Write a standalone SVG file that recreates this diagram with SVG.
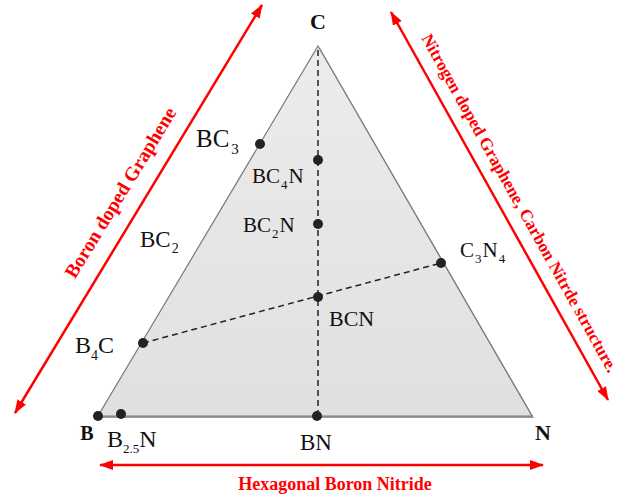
<svg xmlns="http://www.w3.org/2000/svg" width="622" height="497" viewBox="0 0 622 497">
<style>
.lbl{font-family:"Liberation Serif","Times New Roman",serif;fill:#111;}
.bold{font-family:"Liberation Serif","Times New Roman",serif;font-weight:bold;fill:#111;}
.red{font-family:"Liberation Serif","Times New Roman",serif;font-weight:bold;fill:#ff0000;}
.dash{stroke:#222;stroke-width:1.5;stroke-dasharray:6 4;fill:none;}
.arrow{stroke:#ff0000;stroke-width:2.5;fill:none;marker-start:url(#ah);marker-end:url(#ah);}
.dot{fill:#222;}
</style>
<defs>
<marker id="ah" markerUnits="userSpaceOnUse" markerWidth="14" markerHeight="12" refX="13" refY="5" orient="auto-start-reverse" viewBox="0 0 14 10">
<path d="M0,0 L14,5 L0,10 Z" fill="#ff0000"/>
</marker>
<linearGradient id="tg" x1="0" y1="0" x2="0" y2="1">
<stop offset="0" stop-color="#ececec"/>
<stop offset="1" stop-color="#e0e0e0"/>
</linearGradient>
</defs>
<rect width="622" height="497" fill="#ffffff"/>
<g id="triangle">
<polygon points="320,48 534,418 100,418" fill="#9a9a9a"/>
<polygon points="318,46 532,416 98,416" fill="url(#tg)" stroke="#7a7a7a" stroke-width="1.2"/>
</g>
<g id="connectors">
<line class="dash" x1="318" y1="50" x2="318" y2="416"/>
<line class="dash" x1="143" y1="343" x2="441" y2="263"/>
<line class="arrow" x1="15" y1="413" x2="262" y2="5"/>
<line class="arrow" x1="391" y1="12" x2="608" y2="400"/>
<line class="arrow" x1="100" y1="465" x2="543" y2="465"/>
</g>
<g id="vertex-C"><text class="bold" x="318" y="29" font-size="22" text-anchor="middle">C</text></g>
<g id="vertex-B"><circle class="dot" cx="98" cy="416" r="5"/><text class="bold" x="87" y="440" font-size="20" text-anchor="middle">B</text></g>
<g id="vertex-N"><text class="bold" x="543" y="440" font-size="22" text-anchor="middle">N</text></g>
<g id="BC3"><circle class="dot" cx="260" cy="144" r="5"/><text class="lbl" x="196" y="147" font-size="25">BC<tspan font-size="15" dx="2" dy="7">3</tspan></text></g>
<g id="BC4N"><circle class="dot" cx="318" cy="160" r="5"/><text class="lbl" x="252" y="183" font-size="21">BC<tspan font-size="13" dx="1" dy="6">4</tspan><tspan dx="1" dy="-6">N</tspan></text></g>
<g id="BC2N"><circle class="dot" cx="318" cy="224" r="5"/><text class="lbl" x="243" y="232" font-size="21">BC<tspan font-size="13" dx="1" dy="6">2</tspan><tspan dx="1" dy="-6">N</tspan></text></g>
<g id="BC2"><text class="lbl" x="140" y="247" font-size="23">BC<tspan font-size="14" dx="1" dy="6">2</tspan></text></g>
<g id="C3N4"><circle class="dot" cx="441" cy="263" r="5"/><text class="lbl" x="460" y="257" font-size="21">C<tspan font-size="13" dx="1" dy="6">3</tspan><tspan dx="1" dy="-6">N</tspan><tspan font-size="13" dx="1" dy="6">4</tspan></text></g>
<g id="BCN"><circle class="dot" cx="318" cy="297" r="5"/><text class="lbl" x="329" y="326" font-size="22">BCN</text></g>
<g id="B4C"><circle class="dot" cx="143" cy="343" r="5"/><text class="lbl" x="75" y="353" font-size="24">B<tspan font-size="14" dy="7">4</tspan><tspan dy="-7">C</tspan></text></g>
<g id="B2.5N"><circle class="dot" cx="121" cy="414" r="5"/><text class="lbl" x="107" y="447" font-size="24">B<tspan font-size="13" dy="6">2.5</tspan><tspan dy="-6">N</tspan></text></g>
<g id="BN"><circle class="dot" cx="317" cy="416" r="5"/><text class="lbl" x="316" y="450" font-size="23" text-anchor="middle">BN</text></g>
<g id="label-left"><text class="red" font-size="19.5" text-anchor="middle" transform="translate(126,196) rotate(-58.6)">Boron doped Graphene</text></g>
<g id="label-right"><text class="red" font-size="17.2" transform="translate(421,38) rotate(60.8)">Nitrogen doped Graphene, Carbon Nitrde structure.</text></g>
<g id="label-bottom"><text class="red" x="335" y="490" font-size="18" text-anchor="middle">Hexagonal Boron Nitride</text></g>
</svg>
